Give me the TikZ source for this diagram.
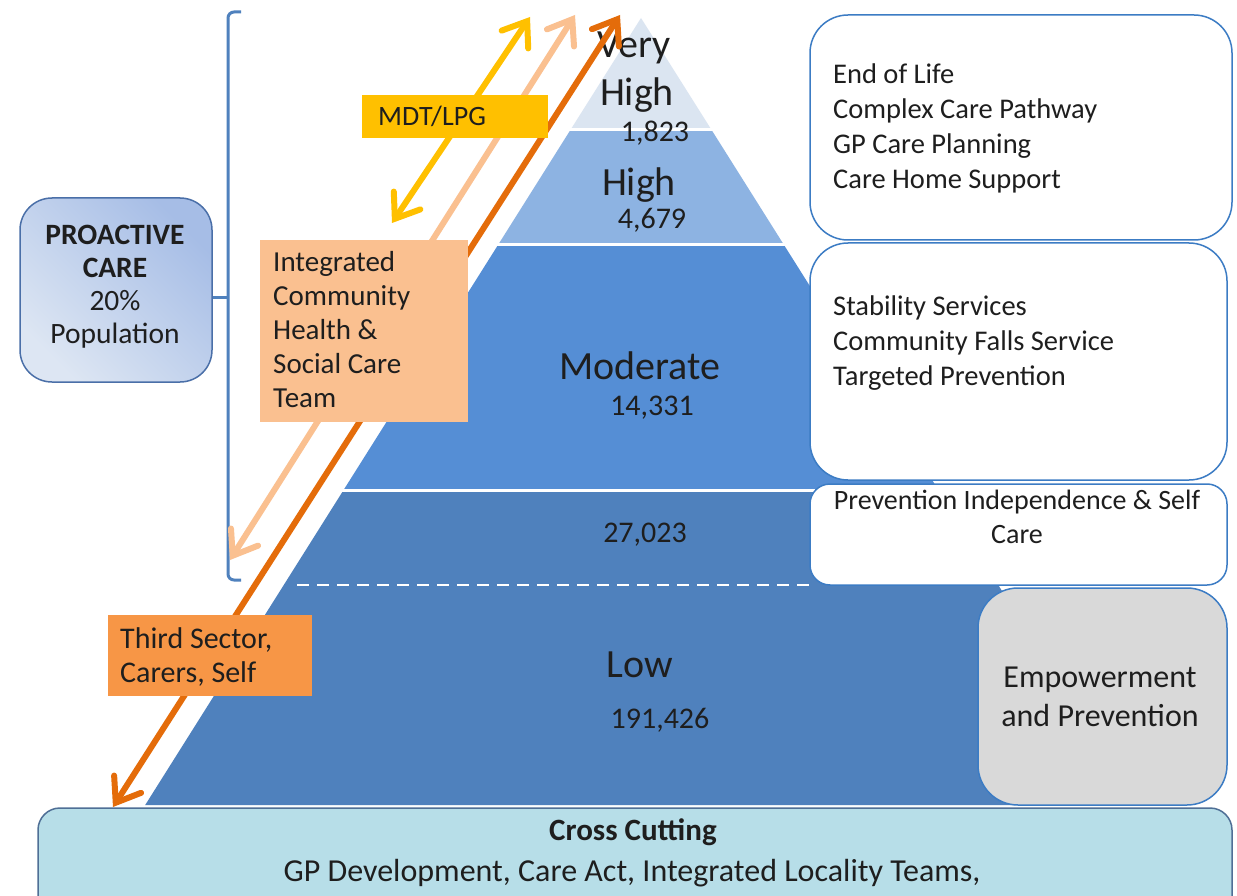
\documentclass[tikz,border=0pt]{standalone}
\usepackage{fontspec}
\setmainfont{Carlito}
\usetikzlibrary{arrows.meta}
\definecolor{vhigh}{HTML}{DBE5F1}
\definecolor{high}{HTML}{8DB3E2}
\definecolor{moder}{HTML}{558ED5}
\definecolor{lowc}{HTML}{4F81BD}
\definecolor{boxline}{HTML}{3C7CC4}
\definecolor{grayfill}{HTML}{D9D9D9}
\definecolor{crossfill}{HTML}{B7DEE8}
\definecolor{crossline}{HTML}{4F6F96}
\definecolor{proA}{HTML}{DDE6F3}
\definecolor{proB}{HTML}{A6BDE6}
\definecolor{proline}{HTML}{4A6FA8}
\definecolor{yel}{HTML}{FFC000}
\definecolor{lorange}{HTML}{FAC090}
\definecolor{dorange}{HTML}{E46C0A}
\definecolor{third}{HTML}{F79646}
\definecolor{ink}{HTML}{1E1E1E}
\newcommand{\fs}[2]{\fontsize{#1}{#2}\selectfont}
\begin{document}
\begin{tikzpicture}[x=1pt,y=-1pt,
  txt/.style={inner sep=0pt, text=ink},
  dblarrow/.style={line width=6pt, line cap=round, {Straight Barb[length=22pt,width=32pt,line cap=round]}-{Straight Barb[length=22pt,width=32pt,line cap=round]}},
  rbox/.style={draw=boxline, line width=1.5pt, fill=white, rounded corners=38pt},
  label/.style={inner sep=0pt, text=ink, align=left, anchor=west}]
\useasboundingbox (0,0) rectangle (1237,896);
\clip (0,0) rectangle (1237,896);
\fill[white] (0,0) rectangle (1237,896);

% pyramid bands
\fill[lowc] (343.6,490) -- (938.4,490) -- (1136.8,805) -- (145.2,805) -- cycle;
\fill[moder] (498,245) -- (784,245) -- (938.4,490) -- (343.6,490) -- cycle;
\fill[high] (570.4,130) -- (711.6,130) -- (784,245) -- (498,245) -- cycle;
\fill[vhigh] (641,18) -- (711.6,130) -- (570.4,130) -- cycle;
\draw[white, line width=3pt] (560,130) -- (720,130);
\draw[white, line width=3pt] (490,245) -- (795,245);
\draw[white, line width=3pt] (335,490) -- (815,490);
\draw[white, line width=2pt, dash pattern=on 12pt off 8pt] (297,585) -- (810,585);

% pyramid texts
\node[txt, font=\fs{40}{44}] (very) at (634,48) {Very};
\node[txt, font=\fs{40}{44}] (vhightxt) at (637,95) {High};
\node[txt, font=\fs{30}{34}] (n1) at (655,133) {1,823};
\node[txt, font=\fs{40}{44}] (hightxt) at (639,185) {High};
\node[txt, font=\fs{30}{34}] (n2) at (652,220) {4,679};
\node[txt, font=\fs{40}{44}] (modtxt) at (640,366) {Moderate};
\node[txt, font=\fs{30}{34}] (n3) at (652,408) {14,331};
\node[txt, font=\fs{30}{34}] (n4) at (645,535) {27,023};
\node[txt, font=\fs{40}{44}] (lowtxt) at (640,665) {Low};
\node[txt, font=\fs{30}{34}] (n5) at (660,720) {191,426};

% bracket
\draw[lowc, line width=3pt, rounded corners=6pt] (241,12) -- (228,12) -- (228,580) -- (241,580);
\draw[lowc, line width=3pt] (212,297) -- (228,297);

% arrows
\coordinate (yA) at (392,223);
\coordinate (yB) at (530,17);
\coordinate (lA) at (230,560);
\coordinate (lB) at (575,15);
\coordinate (dA) at (113,807);
\coordinate (dB) at (620,15);
\draw[dblarrow, lorange] (lA) -- (lB);
\draw[dblarrow, yel] (yA) -- (yB);
\draw[dblarrow, dorange] (dA) -- (dB);

% label boxes
\fill[yel] (362,95) rectangle (548,138);
\node[label, font=\fs{28}{32}] (mdt) at (378,116) {MDT/LPG};
\fill[lorange] (260,240) rectangle (468,422);
\node[label, font=\fs{29}{34}] (icht) at (273,330) {Integrated\\Community\\Health \&\\Social Care\\Team};
\fill[third] (108,615) rectangle (312,696);
\node[label, font=\fs{30}{34}] (tsec) at (120,657) {Third Sector,\\Carers, Self};

% proactive care
\draw[proline, line width=1.5pt, rounded corners=32pt, bottom color=proA, top color=proB, shading angle=-45] (20,198) rectangle (212,382);
\node[txt, align=center, font=\fs{29.5}{33}] (pro) at (115,287) {\textbf{PROACTIVE}\\\textbf{CARE}\\20\%\\Population};

% right boxes
\draw[rbox] (810,15) rectangle (1232,240);
\node[label, font=\fs{28.5}{35}] (b1) at (833,128) {End of Life\\Complex Care Pathway\\GP Care Planning\\Care Home Support};
\draw[rbox] (810,243) rectangle (1227,480);
\node[label, font=\fs{28.5}{35}] (b2) at (833,343) {Stability Services\\Community Falls Service\\Targeted Prevention};
\draw[rbox, rounded corners=20pt] (810,484) rectangle (1227,585);
\node[txt, align=center, font=\fs{28}{34}] (b3) at (1017,517) {Prevention Independence \& Self\\Care};
\draw[rbox, fill=grayfill, rounded corners=40pt] (978,588) rectangle (1227,805);
\node[txt, align=center, font=\fs{32}{39}] (b4) at (1100,697) {Empowerment\\and Prevention};

% cross cutting
\draw[crossline, line width=1.5pt, fill=crossfill, rounded corners=22pt] (38,808) rectangle (1232,930);
\node[txt, font=\fs{31}{34}\bfseries] (cc) at (633,832) {Cross Cutting};
\node[txt, font=\fs{32}{34}] (cc2) at (632,873) {GP Development, Care Act, Integrated Locality Teams,};
\end{tikzpicture}
\end{document}
